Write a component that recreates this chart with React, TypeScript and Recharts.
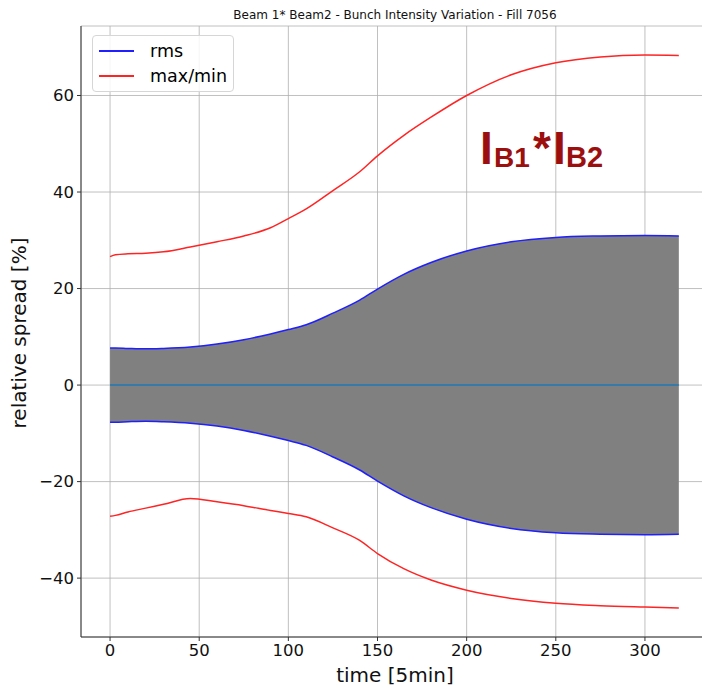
import React from 'react';
import {
  ComposedChart,
  Area,
  Line,
  XAxis,
  YAxis,
  CartesianGrid,
  Legend,
} from 'recharts';

// time samples [5min]
const times = [0, 3, 10, 20, 30, 45, 60, 75, 90, 100, 110, 125, 140, 150, 165, 180, 200, 225, 250, 275, 300, 319];
// rms spread (symmetric band)
const rms = [7.7, 7.7, 7.6, 7.5, 7.6, 7.9, 8.5, 9.4, 10.6, 11.5, 12.5, 14.9, 17.6, 19.9, 23.0, 25.4, 27.8, 29.7, 30.6, 30.9, 31.0, 30.9];
// max and min spread
const maxVals = [26.6, 27.0, 27.2, 27.3, 27.6, 28.6, 29.7, 30.9, 32.6, 34.5, 36.5, 40.3, 44.2, 47.5, 51.8, 55.5, 60.0, 64.3, 66.8, 68.0, 68.4, 68.3];
const minVals = [-27.2, -27.0, -26.3, -25.5, -24.7, -23.5, -24.2, -25.0, -26.0, -26.6, -27.3, -29.6, -32.2, -34.9, -38.1, -40.4, -42.5, -44.2, -45.2, -45.7, -46.0, -46.2];

const xTicks = [0, 50, 100, 150, 200, 250, 300];
const yTicks = [-40, -20, 0, 20, 40, 60];
const xDomain = [-16.3, 334.8];
const yDomain = [-52.2, 74.4];
const legendOrder = ['rms', 'max/min'];

const rows = times.map((t, i) => ({
  t,
  up: rms[i],
  down: -rms[i],
  band: [-rms[i], rms[i]],
  max: maxVals[i],
  min: minVals[i],
  zero: 0,
}));

const FONT = 'DejaVu Sans';
const BLUE = '#1f1fff';
const RED = '#ff2424';
const ANNOT = '#9c0f0f';
const GRID = '#b0b0b0';

const minus = (v: number) => String(v).replace('-', '\u2212');

function LegendBox({ payload }: any) {
  const items = (payload || [])
    .filter((p: any) => legendOrder.includes(p.value))
    .sort((a: any, b: any) => legendOrder.indexOf(a.value) - legendOrder.indexOf(b.value));
  return (
    <div
      style={{
        width: 142,
        height: 57,
        border: '1px solid #d6d6d6',
        borderRadius: 4,
        background: 'rgba(255,255,255,0.85)',
        fontFamily: FONT,
        fontSize: 17.5,
        color: '#000',
        boxSizing: 'border-box',
        paddingTop: 2,
      }}
    >
      {items.map((p: any) => (
        <div key={p.value} style={{ display: 'flex', alignItems: 'center', height: 25 }}>
          <span style={{ display: 'inline-block', width: 35, height: 0, borderTop: `2px solid ${p.color}`, marginLeft: 6, marginRight: 16 }} />
          <span>{p.value}</span>
        </div>
      ))}
    </div>
  );
}

export default function App() {
  return (
    <div
      style={{
        position: 'absolute',
        left: 0,
        top: 0,
        width: 702,
        height: 687,
        overflow: 'hidden',
        background: '#fff',
        fontFamily: FONT,
      }}
    >
      <ComposedChart width={710} height={687} data={rows} margin={{ top: 26, right: 3, bottom: 0, left: 0 }}>
        <XAxis
          dataKey="t"
          type="number"
          domain={xDomain}
          ticks={xTicks}
          height={50}
          tickSize={4}
          tickMargin={3}
          axisLine={{ stroke: '#333', strokeWidth: 1 }}
          tickLine={{ stroke: '#333' }}
          tick={{ fontSize: 16.5, fill: '#111', fontFamily: FONT }}
        />
        <XAxis
          xAxisId="top"
          orientation="top"
          dataKey="t"
          type="number"
          domain={xDomain}
          height={0}
          tick={false}
          tickLine={false}
          axisLine={{ stroke: '#333', strokeWidth: 1 }}
        />
        <YAxis
          type="number"
          domain={yDomain}
          ticks={yTicks}
          width={81}
          tickSize={4}
          tickMargin={3}
          tickFormatter={minus}
          axisLine={{ stroke: '#333', strokeWidth: 1 }}
          tickLine={{ stroke: '#333' }}
          tick={{ fontSize: 16.5, fill: '#111', fontFamily: FONT }}
        />
        <CartesianGrid stroke={GRID} strokeWidth={0.8} />
        <Area
          dataKey="band"
          type="monotone"
          fill="#808080"
          fillOpacity={1}
          stroke="none"
          legendType="none"
          isAnimationActive={false}
        />
        <Line dataKey="zero" stroke="#1f77b4" strokeWidth={1.5} dot={false} legendType="none" isAnimationActive={false} />
        <Line dataKey="up" name="rms" type="monotone" stroke={BLUE} strokeWidth={1.5} dot={false} isAnimationActive={false} />
        <Line dataKey="down" type="monotone" stroke={BLUE} strokeWidth={1.5} dot={false} legendType="none" isAnimationActive={false} />
        <Line dataKey="max" name="max/min" type="monotone" stroke={RED} strokeWidth={1.5} dot={false} isAnimationActive={false} />
        <Line dataKey="min" type="monotone" stroke={RED} strokeWidth={1.5} dot={false} legendType="none" isAnimationActive={false} />
        <Legend
          layout="vertical"
          verticalAlign="middle"
          align="center"
          content={<LegendBox />}
          wrapperStyle={{ position: 'absolute', left: 92, top: 35, width: 'auto', height: 'auto' }}
        />
      </ComposedChart>
      <svg width={702} height={687} style={{ position: 'absolute', left: 0, top: 0, pointerEvents: 'none' }}>
        <text x={395} y={19} textAnchor="middle" fontFamily={FONT} fontSize={12} fill="#111">
          Beam 1* Beam2 - Bunch Intensity Variation - Fill 7056
        </text>
        <text x={395} y={682} textAnchor="middle" fontFamily={FONT} fontSize={20} fill="#111">
          time [5min]
        </text>
        <text
          x={0}
          y={0}
          transform="translate(26,333) rotate(-90)"
          textAnchor="middle"
          fontFamily={FONT}
          fontSize={20}
          fill="#111"
        >
          relative spread [%]
        </text>
        <text fontFamily="Liberation Sans" fontWeight="bold" fill={ANNOT}>
          <tspan x={480} y={164} fontSize={46}>I</tspan>
          <tspan x={494} y={167} fontSize={28}>B1</tspan>
          <tspan x={533} y={164} fontSize={46}>*</tspan>
          <tspan x={553} y={164} fontSize={46}>I</tspan>
          <tspan x={566} y={167} fontSize={29}>B2</tspan>
        </text>
      </svg>
    </div>
  );
}
